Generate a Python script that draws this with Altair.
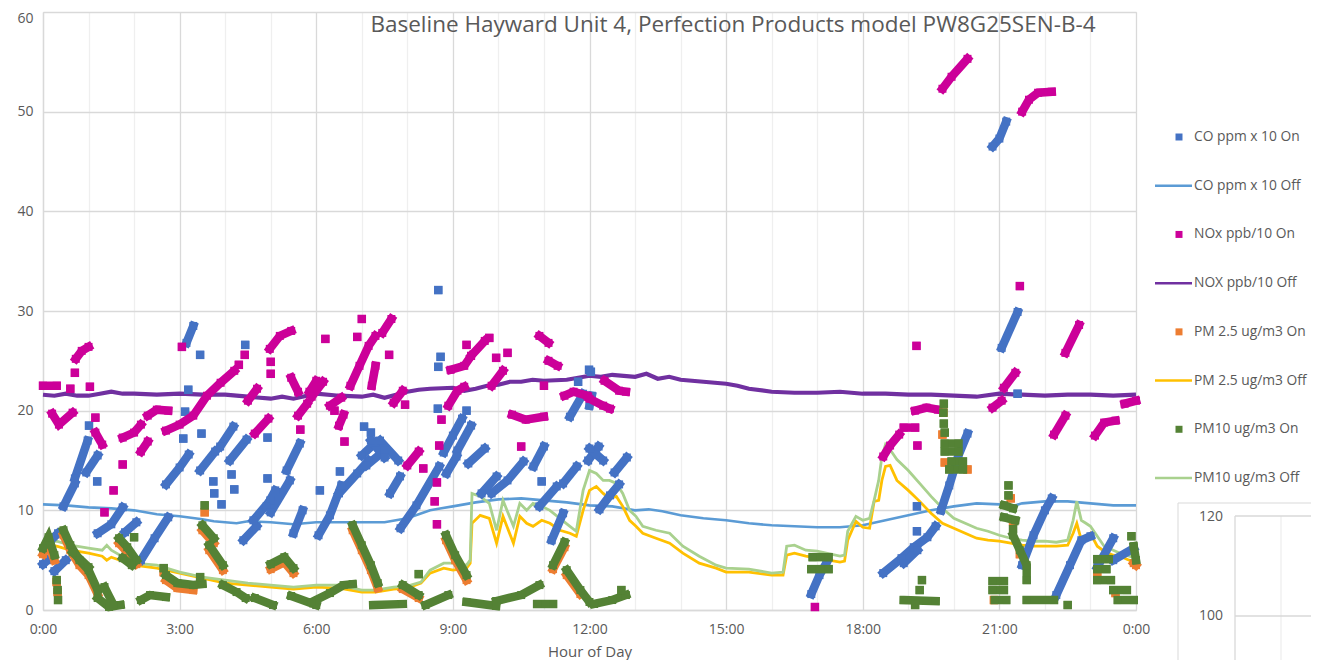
import altair as alt
import pandas as pd

# ---------------- series / colours ----------------
SERIES = ["CO ppm x 10 On", "CO ppm x 10 Off", "NOx ppb/10 On", "NOX ppb/10 Off",
          "PM 2.5 ug/m3 On", "PM 2.5 ug/m3 Off", "PM10 ug/m3 On", "PM10 ug/m3 Off"]
KINDS = ["On", "Off", "On", "Off", "On", "Off", "On", "Off"]
COLORS = ["#4472C4", "#5B9BD5", "#CC0099", "#7030A0", "#ED7D31", "#FFC000", "#548235", "#A9D18E"]
TITLE = "Baseline Hayward Unit 4, Perfection Products model PW8G25SEN-B-4"
X_TICKS = list(range(0, 25))
Y_TICKS = [0, 10, 20, 30, 40, 50, 60]
INSET_LABELS = ["120", "100"]

# ---------------- "Off" lines (hour, value) ----------------
co_off_hours = [0.0, 0.5, 1.0, 1.5, 2.0, 2.5, 3.0, 3.5, 3.75, 4.0, 4.25, 4.5, 5.0, 5.5, 6.0, 6.5, 7.0, 7.5,
                7.75, 8.0, 8.25, 8.5, 8.75, 9.0, 9.5, 10.0, 10.5, 11.0, 11.5, 12.0, 12.5, 13.0, 13.3, 13.6,
                14.0, 14.5, 15.0, 15.5, 16.0, 16.5, 17.0, 17.5, 18.0, 18.5, 19.0, 19.5, 20.0, 20.5, 21.0,
                21.2, 21.5, 22.0, 22.5, 23.0, 23.5, 24.0]
co_off_values = [10.6, 10.5, 10.3, 10.2, 10.0, 9.6, 9.4, 9.1, 8.9, 8.8, 8.7, 8.9, 8.8, 8.6, 8.8, 8.8, 8.8, 8.8,
                 9.0, 9.2, 9.6, 10.0, 10.2, 10.4, 10.8, 11.1, 11.2, 11.0, 10.8, 10.5, 10.4, 10.0, 10.1, 9.9,
                 9.5, 9.2, 9.0, 8.7, 8.5, 8.4, 8.3, 8.3, 8.5, 9.0, 9.5, 10.0, 10.4, 10.7, 10.6,
                 10.3, 10.7, 10.9, 10.9, 10.7, 10.5, 10.5]

nox_off_hours = [0.0, 0.25, 0.5, 0.75, 1.0, 1.25, 1.5, 1.75, 2.0, 2.5, 3.0, 3.5, 4.0, 4.5, 5.0, 5.25, 5.5,
                 6.0, 6.5, 7.0, 7.25, 7.5, 8.0, 8.25, 8.5, 9.0, 9.25, 9.5, 9.75, 10.0, 10.25, 10.5, 10.75,
                 11.0, 11.5, 12.0, 12.25, 12.5, 13.0, 13.25, 13.5, 13.75, 14.0, 14.25, 14.5, 15.0, 15.25,
                 15.5, 16.0, 16.5, 17.0, 17.5, 18.0, 18.5, 19.0, 19.5, 20.0, 20.5, 21.0, 21.5, 22.0, 22.5,
                 23.0, 23.5, 24.0]
nox_off_values = [21.6, 21.5, 21.7, 21.5, 21.5, 21.7, 21.9, 21.7, 21.7, 21.6, 21.7, 21.6, 21.6, 21.4, 21.2,
                  21.4, 21.2, 21.7, 21.5, 21.4, 21.6, 21.3, 21.9, 22.1, 22.2, 22.3, 22.0, 22.2, 22.5, 22.6,
                  22.9, 22.9, 23.1, 23.0, 23.1, 23.5, 23.4, 23.6, 23.4, 23.7, 23.2, 23.4, 23.1, 23.0, 22.9,
                  22.7, 22.5, 22.2, 21.9, 21.8, 21.8, 21.9, 21.7, 21.7, 21.6, 21.6, 21.5, 21.4, 21.7, 21.6,
                  21.5, 21.6, 21.6, 21.5, 21.6]

pm25_off_hours = [0.0, 0.3, 0.6, 1.0, 1.3, 1.4, 1.5, 2.0, 2.5, 3.0, 3.5, 4.0, 4.5, 5.0, 5.5, 6.0, 6.5, 7.0,
                  7.3, 7.7, 8.0, 8.3, 8.5, 8.8, 9.0, 9.3, 9.38, 9.42, 9.6, 9.8, 9.96, 10.1, 10.33, 10.47,
                  10.62, 10.76, 10.95, 11.13, 11.35, 11.57, 11.71, 11.86, 12.0, 12.15, 12.3, 12.44, 12.59,
                  12.73, 12.88, 13.02, 13.17, 13.46, 13.76, 14.05, 14.41, 14.78, 15.0, 15.5, 16.0, 16.25,
                  16.33, 16.5, 16.75, 17.0, 17.5, 17.6, 17.67, 17.85, 18.0, 18.15, 18.25, 18.35, 18.42,
                  18.5, 18.6, 18.75, 19.0, 19.25, 19.5, 19.75, 20.0, 20.25, 20.5, 20.75, 21.0, 21.25, 21.5,
                  21.75, 22.0, 22.25, 22.5, 22.62, 22.7, 22.8, 22.9, 23.0, 23.15, 23.3, 23.5, 23.65, 23.85,
                  24.0]
pm25_off_values = [6.6, 6.4, 6.0, 5.7, 5.4, 5.0, 5.3, 4.5, 4.2, 3.7, 3.2, 2.7, 2.5, 2.3, 2.1, 2.3, 2.2, 1.8,
                   1.8, 2.1, 2.2, 2.7, 3.7, 4.2, 4.0, 4.2, 4.7, 8.7, 9.5, 9.2, 6.7, 9.4, 6.7, 9.4,
                   8.7, 8.4, 9.0, 8.7, 8.0, 7.7, 7.4, 10.0, 12.0, 12.4, 11.7, 11.2, 11.4,
                   10.4, 9.0, 8.4, 7.7, 7.2, 6.7, 5.7, 4.7, 4.2, 3.8, 3.8, 3.5, 3.5,
                   5.5, 5.7, 5.4, 5.2, 4.8, 4.9, 7.0, 8.9, 8.3, 8.2, 10.9, 11.0, 13.0,
                   14.4, 14.5, 13.0, 12.0, 10.9, 9.7, 8.7, 8.2, 7.7, 7.2, 7.0, 6.9, 6.7, 6.5,
                   6.4, 6.4, 6.4, 6.5, 7.7, 8.7, 7.0, 7.3, 7.7, 6.4, 5.9, 5.5, 5.4, 5.0,
                   4.8]

pm10_off_hours = list(pm25_off_hours)
pm10_off_values = [6.9, 6.9, 6.5, 6.2, 6.0, 6.5, 6.0, 4.7, 4.5, 3.8, 3.3, 3.0, 2.7, 2.5, 2.3, 2.5, 2.5, 2.0,
                   2.0, 2.3, 2.4, 2.8, 4.0, 4.7, 4.7, 4.5, 5.0, 11.7, 11.4, 10.7, 8.0, 11.0, 8.4, 10.7,
                   10.0, 10.7, 10.4, 10.0, 9.2, 8.4, 7.9, 12.0, 14.0, 13.7, 13.0, 13.0, 12.7,
                   11.7, 10.0, 9.4, 8.4, 8.0, 7.7, 6.4, 5.4, 4.5, 4.2, 4.1, 3.7, 3.8,
                   6.4, 6.5, 6.0, 5.9, 5.4, 5.5, 7.9, 9.4, 9.0, 9.2, 11.0, 13.0, 15.4,
                   16.6, 16.1, 15.1, 14.0, 12.7, 11.4, 10.2, 9.2, 8.7, 8.2, 7.9, 7.5, 7.2, 7.0,
                   6.9, 6.9, 6.8, 7.0, 9.0, 10.9, 9.0, 8.7, 8.4, 7.4, 6.4, 6.0, 5.7, 5.4,
                   5.2]

# ---------------- "On" measurements: runs of (hour, value) ----------------
co_on_runs = [
    [[0.0, 4.6], [0.1, 5.0]], [[0.25, 3.9], [0.5, 5.0]], [[0.17, 7.0], [0.33, 7.7]],
    [[0.45, 10.4], [0.7, 12.7]], [[0.7, 13.2], [0.98, 17.0]], [[0.95, 13.8], [1.2, 15.5]],
    [[1.01, 18.5]], [[1.19, 12.9]], [[1.2, 7.7], [1.5, 8.6], [1.75, 10.3]], [[1.8, 7.8], [2.05, 8.8]],
    [[2.15, 5.0], [2.45, 7.2], [2.75, 9.3]], [[2.7, 12.6], [3.0, 14.3], [3.2, 15.6]],
    [[3.15, 26.8], [3.3, 28.5]], [[3.45, 25.6]], [[3.19, 22.1]], [[3.12, 19.9]], [[3.08, 17.2]],
    [[3.48, 17.7]], [[3.45, 14.0], [3.78, 15.9]], [[3.74, 12.9]], [[3.76, 11.7]], [[3.92, 10.6]],
    [[4.14, 13.6]], [[4.2, 12.1]], [[3.89, 16.4], [4.18, 18.4]], [[4.1, 15.0], [4.47, 17.1]],
    [[4.44, 26.6]], [[4.4, 7.0], [4.69, 8.4]], [[4.62, 9.0], [4.99, 11.0]], [[4.91, 10.4], [5.1, 12.0]],
    [[5.0, 9.8], [5.42, 13.0]], [[4.93, 17.3]], [[4.93, 13.2]], [[5.35, 14.0], [5.64, 16.7]],
    [[5.5, 7.7], [5.7, 10.0]], [[6.05, 7.5], [6.3, 9.5], [6.55, 12.5]],
    [[6.5, 11.7], [6.9, 13.7], [7.15, 15.0]], [[6.08, 12.0]], [[6.52, 13.9]],
    [[7.0, 15.5], [7.3, 16.8]], [[7.1, 14.5], [7.5, 16.0]], [[7.2, 17.0], [7.5, 15.3]],
    [[7.4, 17.0], [7.8, 15.0]], [[7.05, 18.4]], [[7.2, 17.8]], [[7.62, 11.7], [7.84, 13.4]],
    [[7.85, 8.2], [8.2, 10.5], [8.7, 14.4]], [[8.68, 32.1]], [[8.68, 24.4]], [[8.73, 25.4]],
    [[8.67, 20.2]], [[8.8, 15.8], [9.0, 17.5], [9.2, 19.2]], [[9.1, 16.0], [9.4, 18.5]], [[9.3, 20.0]],
    [[8.86, 13.7], [9.08, 15.4]], [[9.34, 14.7], [9.7, 16.2]], [[9.63, 11.7], [9.96, 13.4]],
    [[9.85, 11.7], [10.2, 13.0], [10.55, 14.9]], [[10.77, 14.4], [11.0, 16.4]],
    [[10.9, 10.4], [11.28, 12.4]], [[10.95, 12.9]], [[11.42, 12.7], [11.72, 14.4]],
    [[11.17, 7.0], [11.42, 9.7]], [[11.57, 19.4], [11.86, 21.7]], [[11.99, 24.1]], [[11.75, 22.9]],
    [[11.97, 15.0], [12.2, 16.4]], [[12.0, 16.2], [12.3, 15.0]], [[12.55, 13.8], [12.82, 15.3]],
    [[12.22, 10.1], [12.45, 11.5], [12.65, 12.6]], [[12.03, 23.9]], [[12.0, 20.5], [12.05, 21.5]],
    [[16.87, 1.6], [17.05, 3.5], [17.2, 4.7]],
    [[18.45, 3.7], [18.85, 5.2], [19.12, 6.3], [19.42, 7.3], [19.6, 8.4]], [[18.9, 4.7], [19.2, 6.0]],
    [[19.19, 7.9]], [[19.19, 10.4]], [[19.72, 10.0], [19.9, 12.5], [20.1, 15.5], [20.3, 17.7]],
    [[20.85, 46.5], [21.0, 47.3], [21.15, 49.0]], [[21.05, 26.3], [21.4, 29.9]], [[21.4, 21.7]],
    [[21.5, 4.5], [21.75, 7.5], [22.0, 10.0], [22.15, 11.2]],
    [[22.25, 1.5], [22.55, 4.5], [22.8, 7.0], [23.0, 7.4]], [[23.15, 4.3], [23.5, 7.2]],
    [[23.5, 5.0], [23.95, 6.2]],
]

nox_on_runs = [
    [[0.0, 22.5], [0.3, 22.5]], [[0.2, 19.7], [0.35, 18.6], [0.65, 19.8]], [[0.6, 22.2]], [[0.7, 23.8]],
    [[0.72, 25.2], [0.85, 26.0], [1.0, 26.4]], [[1.03, 22.4]], [[1.15, 19.3]], [[1.15, 17.8], [1.3, 16.6]],
    [[1.75, 14.6]], [[1.55, 12.0]], [[1.35, 9.8]], [[1.75, 17.3], [2.0, 17.8], [2.15, 18.6]],
    [[2.15, 15.9], [2.3, 16.9]], [[2.3, 19.5], [2.5, 20.1], [2.75, 20.0]],
    [[2.7, 18.0], [3.0, 18.6], [3.3, 19.5], [3.6, 21.5], [3.9, 22.8], [4.2, 24.0]], [[3.05, 26.4]],
    [[4.3, 24.6]], [[4.43, 25.6]], [[4.5, 21.0], [4.7, 22.2]], [[4.65, 17.7], [4.95, 19.2]],
    [[5.0, 24.9]], [[5.0, 23.7]], [[4.98, 26.2], [5.2, 27.5], [5.45, 28.0]], [[5.45, 23.3], [5.6, 21.9]],
    [[5.6, 19.5], [5.8, 20.7]], [[5.65, 18.1]], [[5.85, 21.9], [6.0, 23.0]], [[5.9, 21.4], [6.15, 22.9]],
    [[6.2, 27.2]], [[6.3, 20.5], [6.55, 21.3]], [[6.4, 20.0]], [[6.5, 18.5], [6.6, 19.6]], [[6.62, 16.9]],
    [[6.9, 27.4]], [[7.0, 29.2]], [[6.75, 22.5], [6.95, 24.5], [7.15, 26.5], [7.3, 27.5]],
    [[7.22, 22.5], [7.3, 24.5]], [[7.45, 27.8], [7.65, 29.2]], [[7.6, 25.6]], [[7.7, 20.8], [7.9, 22.0]],
    [[7.95, 20.6]], [[8.0, 14.5], [8.25, 15.9]], [[8.35, 14.2]], [[8.65, 12.8]], [[8.6, 10.9]],
    [[8.65, 8.6]], [[8.7, 16.5]], [[8.75, 19.1]], [[8.9, 20.5], [9.1, 22.0], [9.25, 22.4]],
    [[8.95, 24.1], [9.25, 24.5], [9.4, 25.5]], [[9.3, 26.6]], [[9.4, 25.5], [9.7, 27.0]], [[9.8, 27.3]],
    [[9.85, 22.5], [10.1, 24.0]], [[9.95, 25.3]], [[10.2, 25.8]], [[10.9, 27.5], [11.1, 26.8]],
    [[11.1, 25.0], [11.3, 24.5]], [[11.0, 22.5]], [[11.45, 21.5], [11.65, 21.9], [11.95, 21.5]],
    [[10.3, 19.6], [10.6, 19.1], [11.0, 19.4]], [[10.5, 16.4]],
    [[12.33, 23.0], [12.65, 22.0], [12.8, 21.9]], [[12.0, 21.2], [12.3, 20.5], [12.45, 20.2]],
    [[16.95, 0.3]], [[18.45, 15.4], [18.6, 16.5], [18.8, 17.6]], [[18.9, 18.3], [19.15, 18.3]],
    [[19.2, 16.5]], [[19.15, 20.0], [19.4, 20.3], [19.65, 20.1]], [[19.18, 26.5]],
    [[19.75, 52.3], [19.95, 53.5], [20.3, 55.3]], [[20.85, 20.3], [21.05, 21.0]],
    [[21.1, 22.3], [21.35, 23.8]], [[21.45, 32.5]], [[21.5, 50.0], [21.65, 51.2], [21.85, 51.9], [22.15, 52.0]],
    [[22.2, 17.6], [22.45, 19.5]], [[22.45, 25.8], [22.75, 28.6]],
    [[23.1, 17.5], [23.3, 18.8], [23.55, 19.0]], [[23.75, 20.7], [24.0, 21.0]],
]

pm25_on_runs = [
    [[0.0, 5.6], [0.12, 6.6], [0.25, 5.0]], [[0.3, 2.8]], [[0.32, 1.8]],
    [[0.45, 7.5], [0.6, 6.0], [0.8, 4.5], [1.0, 3.5], [1.2, 1.6]], [[1.67, 6.7], [1.85, 5.8], [2.05, 4.6]],
    [[2.65, 3.8]], [[2.7, 3.0], [2.95, 2.2], [3.3, 2.0]], [[3.55, 9.8]], [[3.5, 8.0], [3.75, 6.7]],
    [[3.65, 6.0], [3.95, 4.0]], [[5.0, 4.1], [5.3, 4.8], [5.5, 3.7]],
    [[6.8, 8.0], [7.0, 6.0], [7.2, 4.0], [7.35, 2.2]], [[7.9, 2.1], [8.25, 1.2]],
    [[8.85, 7.0], [9.05, 5.0], [9.3, 3.0]], [[11.2, 4.1], [11.45, 6.3]], [[11.5, 3.5], [11.8, 1.6]],
    [[19.77, 19.8]], [[19.8, 14.8]], [[20.3, 14.1]], [[19.75, 17.6]], [[21.25, 11.2]], [[21.3, 8.9]],
    [[21.45, 5.6]], [[20.88, 1.0]], [[23.15, 3.8]], [[23.55, 1.7]], [[23.95, 4.7], [24.0, 4.5]],
]

pm10_on_runs = [
    [[0.0, 6.2], [0.12, 7.3], [0.25, 5.5]], [[0.3, 3.0]], [[0.32, 2.0]], [[0.33, 1.0]],
    [[0.45, 8.0], [0.6, 6.5], [0.8, 5.0], [1.0, 4.0], [1.2, 2.0]], [[0.65, 5.8], [1.0, 4.3]],
    [[1.2, 1.2], [1.45, 0.3], [1.7, 0.5]], [[1.35, 2.3], [1.55, 0.5]],
    [[1.67, 7.2], [1.85, 6.3], [2.05, 5.0]], [[1.75, 5.2], [1.95, 4.5]], [[2.0, 7.3]],
    [[2.15, 1.0], [2.35, 1.5], [2.7, 1.3]], [[2.65, 4.2]], [[2.7, 3.5], [2.95, 2.7], [3.3, 2.5], [3.5, 2.6]],
    [[3.45, 3.3]], [[3.55, 10.5]], [[3.5, 8.5], [3.75, 7.2]], [[3.65, 6.5], [3.95, 4.5]],
    [[3.95, 2.5], [4.25, 1.8], [4.45, 1.2]], [[4.65, 1.2], [5.05, 0.5]], [[5.0, 4.6], [5.3, 5.3], [5.5, 4.2]],
    [[5.45, 1.4], [6.0, 0.5]], [[5.9, 0.8], [6.3, 1.7], [6.6, 2.5], [6.8, 2.6]],
    [[6.8, 8.5], [7.0, 6.5], [7.2, 4.5], [7.35, 2.7]], [[7.25, 0.5], [7.9, 0.6]], [[7.9, 2.5], [8.25, 1.5]],
    [[8.25, 3.6]], [[8.4, 0.5], [8.9, 1.5]], [[8.85, 7.5], [9.05, 5.5], [9.3, 3.5]], [[9.3, 0.8], [9.95, 0.4]],
    [[9.95, 0.9], [10.5, 1.5], [10.9, 2.5]], [[10.85, 0.6], [11.2, 0.6]], [[11.2, 4.5], [11.45, 6.8]],
    [[11.5, 4.0], [11.8, 2.0], [12.0, 0.8]], [[12.1, 0.6], [12.5, 1.0], [12.8, 1.5]], [[12.7, 2.0]],
    [[16.9, 5.3], [17.25, 5.3]], [[16.87, 4.1], [17.25, 4.1]], [[18.9, 1.0], [19.6, 0.9]],
    [[19.3, 3.0]], [[19.25, 2.0]], [[19.15, 0.5]], [[19.78, 20.7]], [[19.77, 19.8]], [[19.78, 18.7]],
    [[19.8, 17.8]], [[19.8, 16.7], [20.1, 16.7]], [[19.8, 15.9], [20.1, 15.9]], [[19.95, 14.9], [20.2, 14.9]],
    [[19.9, 14.1], [20.2, 14.1]], [[20.85, 2.9], [21.1, 2.9]], [[20.85, 2.0], [21.1, 2.0]],
    [[20.9, 1.0], [21.15, 1.0]], [[21.2, 12.5]], [[21.2, 11.5]], [[21.1, 10.5], [21.3, 10.2]],
    [[21.1, 9.3], [21.35, 9.0]], [[21.3, 8.1]], [[21.3, 7.5], [21.45, 6.0], [21.6, 4.5], [21.6, 3.0]],
    [[21.6, 1.0], [22.2, 1.0]], [[22.5, 0.5]], [[23.15, 5.1], [23.4, 5.1]], [[23.15, 4.1], [23.35, 4.1]],
    [[23.15, 3.0], [23.45, 3.0]], [[23.5, 2.0], [23.8, 2.0]], [[23.6, 1.0], [23.95, 1.0]],
    [[23.9, 7.4]], [[23.95, 6.4], [24.0, 5.0]],
]

# ---------------- build tables ----------------
def off_table(name, hours, values):
    return pd.DataFrame({"series": name, "t": hours, "v": values, "o": range(len(hours))})

def on_table(name, runs):
    rows = []
    for sid, run in enumerate(runs):
        for idx, (t, v) in enumerate(run):
            rows.append({"series": name, "sid": f"{name}-{sid}", "idx": idx, "t": t, "v": v})
    return pd.DataFrame(rows)

off_specs = [(SERIES[1], co_off_hours, co_off_values, 2.6),
             (SERIES[3], nox_off_hours, nox_off_values, 4.2),
             (SERIES[5], pm25_off_hours, pm25_off_values, 2.8),
             (SERIES[7], pm10_off_hours, pm10_off_values, 2.8)]
on_specs = [(SERIES[0], co_on_runs), (SERIES[2], nox_on_runs),
            (SERIES[4], pm25_on_runs), (SERIES[6], pm10_on_runs)]

FONT = "Open Sans"
TXT = "#595959"
GRID = "#D9D9D9"

x_axis = alt.Axis(
    values=X_TICKS,
    labelExpr="datum.value % 3 === 0 ? (datum.value % 24) + ':00' : ''",
    grid=True,
    gridColor={"condition": {"test": "datum.value % 3 === 0", "value": GRID}, "value": "#EFEFEF"},
    gridWidth=1.3, ticks=False, domainColor=GRID, domainWidth=1.3,
    labelFont=FONT, labelFontSize=14, labelColor=TXT, labelPadding=12,
    labelFlush=False, labelOverlap=False,
    title="Hour of Day", titleFont=FONT, titleFontSize=15, titleFontWeight="normal",
    titleColor=TXT, titlePadding=8,
)
y_axis = alt.Axis(values=Y_TICKS, grid=True, gridColor=GRID, gridWidth=1.3, ticks=False,
                  domainColor=GRID, domainWidth=1.3, labelFont=FONT, labelFontSize=14,
                  labelColor=TXT, labelPadding=10, title=None,
                  labelOffset={"condition": {"test": "datum.value === 60", "value": 6}, "value": 0})

X = alt.X("t:Q", scale=alt.Scale(domain=[0, 24], nice=False, zero=False), axis=x_axis)
Y = alt.Y("v:Q", scale=alt.Scale(domain=[0, 60], nice=False), axis=y_axis)
C = alt.Color("series:N", scale=alt.Scale(domain=SERIES, range=COLORS), legend=None)

layers = []
for name, hrs, vals, w in off_specs:
    layers.append(alt.Chart(off_table(name, hrs, vals)).mark_line(strokeWidth=w).encode(
        x=X, y=Y, color=C, order=alt.Order("o:Q")))
for name, runs in on_specs:
    df = on_table(name, runs)
    layers.append(alt.Chart(df).mark_line(strokeWidth=8.5, strokeCap="square").encode(
        x=X, y=Y, color=C, detail="sid:N", order=alt.Order("idx:Q")))
    layers.append(alt.Chart(df).mark_square(size=64, opacity=1).encode(x=X, y=Y, color=C))

one = pd.DataFrame({"a": [0]})
title_layer = alt.Chart(pd.DataFrame({"title": [TITLE]})).mark_text(
    font=FONT, fontSize=22.5, color=TXT, align="center", baseline="alphabetic"
).encode(x=alt.value(690), y=alt.value(20), text="title:N")

# partial second chart visible at the lower right
inset_frame = alt.Chart(one).mark_rect(fill="white", stroke=GRID, strokeWidth=1).encode(
    x=alt.value(1135), x2=alt.value(1400), y=alt.value(491), y2=alt.value(700))
inset_left = alt.Chart(one).mark_rule(color=GRID, strokeWidth=1.3).encode(
    x=alt.value(1192), y=alt.value(504), y2=alt.value(700))
inset_vgrid = alt.Chart(one).mark_rule(color="#EFEFEF", strokeWidth=1.3).encode(
    x=alt.value(1238), y=alt.value(504), y2=alt.value(700))
inset_h1 = alt.Chart(one).mark_rule(color=GRID, strokeWidth=1.3).encode(
    x=alt.value(1192), x2=alt.value(1400), y=alt.value(504))
inset_h2 = alt.Chart(one).mark_rule(color=GRID, strokeWidth=1.3).encode(
    x=alt.value(1192), x2=alt.value(1400), y=alt.value(604))
inset_t1 = alt.Chart(pd.DataFrame({"lab": [INSET_LABELS[0]]})).mark_text(
    font=FONT, fontSize=14, color=TXT, align="right", baseline="middle").encode(
    x=alt.value(1180), y=alt.value(505), text="lab:N")
inset_t2 = alt.Chart(pd.DataFrame({"lab": [INSET_LABELS[1]]})).mark_text(
    font=FONT, fontSize=14, color=TXT, align="right", baseline="middle").encode(
    x=alt.value(1180), y=alt.value(604), text="lab:N")

main = alt.layer(*layers, title_layer, inset_frame, inset_vgrid, inset_left, inset_h1, inset_h2,
                 inset_t1, inset_t2)

# legend built from the series table
leg_df = pd.DataFrame({"series": SERIES, "kind": KINDS})
LY = alt.Y("series:N", scale=alt.Scale(type="point", domain=SERIES, range=[125, 466], padding=0),
           axis=None)
leg_sq = alt.Chart(leg_df).transform_filter("datum.kind === 'On'").mark_square(size=49, opacity=1).encode(
    x=alt.value(1136), y=LY, color=C)
leg_ln = alt.Chart(leg_df).transform_filter("datum.kind === 'Off'").mark_rule(strokeWidth=2.5).encode(
    x=alt.value(1112), x2=alt.value(1149), y=LY, color=C)
leg_tx = alt.Chart(leg_df).mark_text(font=FONT, fontSize=13.8, color=TXT, align="left",
                                     baseline="middle").encode(x=alt.value(1151), y=LY, text="series:N")
legend = alt.layer(leg_sq, leg_ln, leg_tx)

chart = alt.layer(main, legend).resolve_scale(y="independent").properties(
    width=1093, height=598,
    padding={"left": 35, "top": 4, "right": 175, "bottom": 50},
    autosize=alt.AutoSizeParams(type="none"),
).configure_view(stroke=None).configure(font=FONT, background="white")

chart.save("out.html", embed_options={"renderer": "svg", "actions": False})
